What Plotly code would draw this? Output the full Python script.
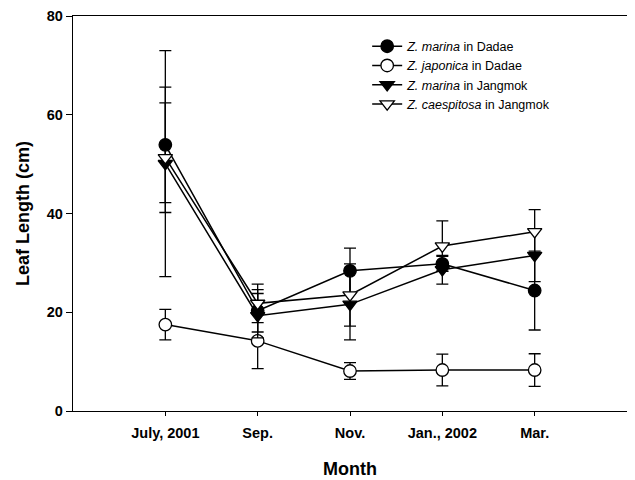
import plotly.graph_objects as go

months = ["July, 2001", "Sep.", "Nov.", "Jan., 2002", "Mar."]
x_pos = [0, 1, 2, 3, 4]

marina_dadae = [53.9, 20.3, 28.4, 29.8, 24.4]
marina_dadae_err = [11.7, 4.3, 4.6, 1.5, 8.0]

japonica_dadae = [17.5, 14.2, 8.1, 8.3, 8.3]
japonica_dadae_err = [3.1, 5.6, 1.7, 3.2, 3.3]

marina_jangmok = [50.1, 19.3, 21.6, 28.6, 31.5]
marina_jangmok_err = [22.9, 4.5, 7.2, 2.9, 5.3]

caespitosa_jangmok = [51.3, 21.8, 23.5, 33.4, 36.3]
caespitosa_jangmok_err = [11.1, 3.9, 6.3, 5.1, 4.5]

y_ticks = [0, 20, 40, 60, 80]

series = [
    ("<i>Z. marina</i> in Dadae", marina_dadae, marina_dadae_err, "circle", "black"),
    ("<i>Z. japonica</i> in Dadae", japonica_dadae, japonica_dadae_err, "circle", "white"),
    ("<i>Z. marina</i> in Jangmok", marina_jangmok, marina_jangmok_err, "triangle-down", "black"),
    ("<i>Z. caespitosa</i> in Jangmok", caespitosa_jangmok, caespitosa_jangmok_err, "triangle-down", "white"),
]

fig = go.Figure()
for name, vals, errs, sym, fill in series:
    fig.add_trace(go.Scatter(
        x=x_pos, y=vals, name=name, mode="lines+markers",
        line=dict(color="black", width=1.5),
        marker=dict(symbol=sym, size=12.5, color=fill, line=dict(color="black", width=1.3)),
        error_y=dict(type="data", array=errs, visible=True, color="black", thickness=1.3, width=6),
    ))

font_fam = "Liberation Sans, Arial, sans-serif"
fig.update_layout(
    width=627, height=472,
    margin=dict(l=65, r=8, t=8, b=69),
    paper_bgcolor="white", plot_bgcolor="white",
    font=dict(family=font_fam, color="black"),
    showlegend=True,
    legend=dict(x=0.531, y=0.9605, xanchor="left", yanchor="top",
                bgcolor="rgba(0,0,0,0)", borderwidth=0,
                font=dict(size=12.5, family=font_fam, color="black"),
                tracegroupgap=0),
    xaxis=dict(range=[-1.0, 5.0], tickmode="array", tickvals=x_pos, ticktext=months,
               showgrid=False, zeroline=False, showline=True, linecolor="black", linewidth=1.3,
               mirror=True, ticks="outside", ticklen=4, tickwidth=1.2, tickcolor="black",
               ticklabelstandoff=4, automargin=False,
               tickfont=dict(size=14.5, weight="bold", family=font_fam),
               title=dict(text="Month", font=dict(size=18, weight="bold", family=font_fam), standoff=22)),
    yaxis=dict(range=[0, 80], tickmode="array", tickvals=y_ticks,
               showgrid=False, zeroline=False, showline=True, linecolor="black", linewidth=1.3,
               mirror=True, ticks="outside", ticklen=6, tickwidth=1.2, tickcolor="black",
               automargin=False,
               tickfont=dict(size=14.5, weight="bold", family=font_fam),
               title=dict(text="Leaf Length (cm)", font=dict(size=18, weight="bold", family=font_fam), standoff=12)),
)

fig.write_html("out.html")
